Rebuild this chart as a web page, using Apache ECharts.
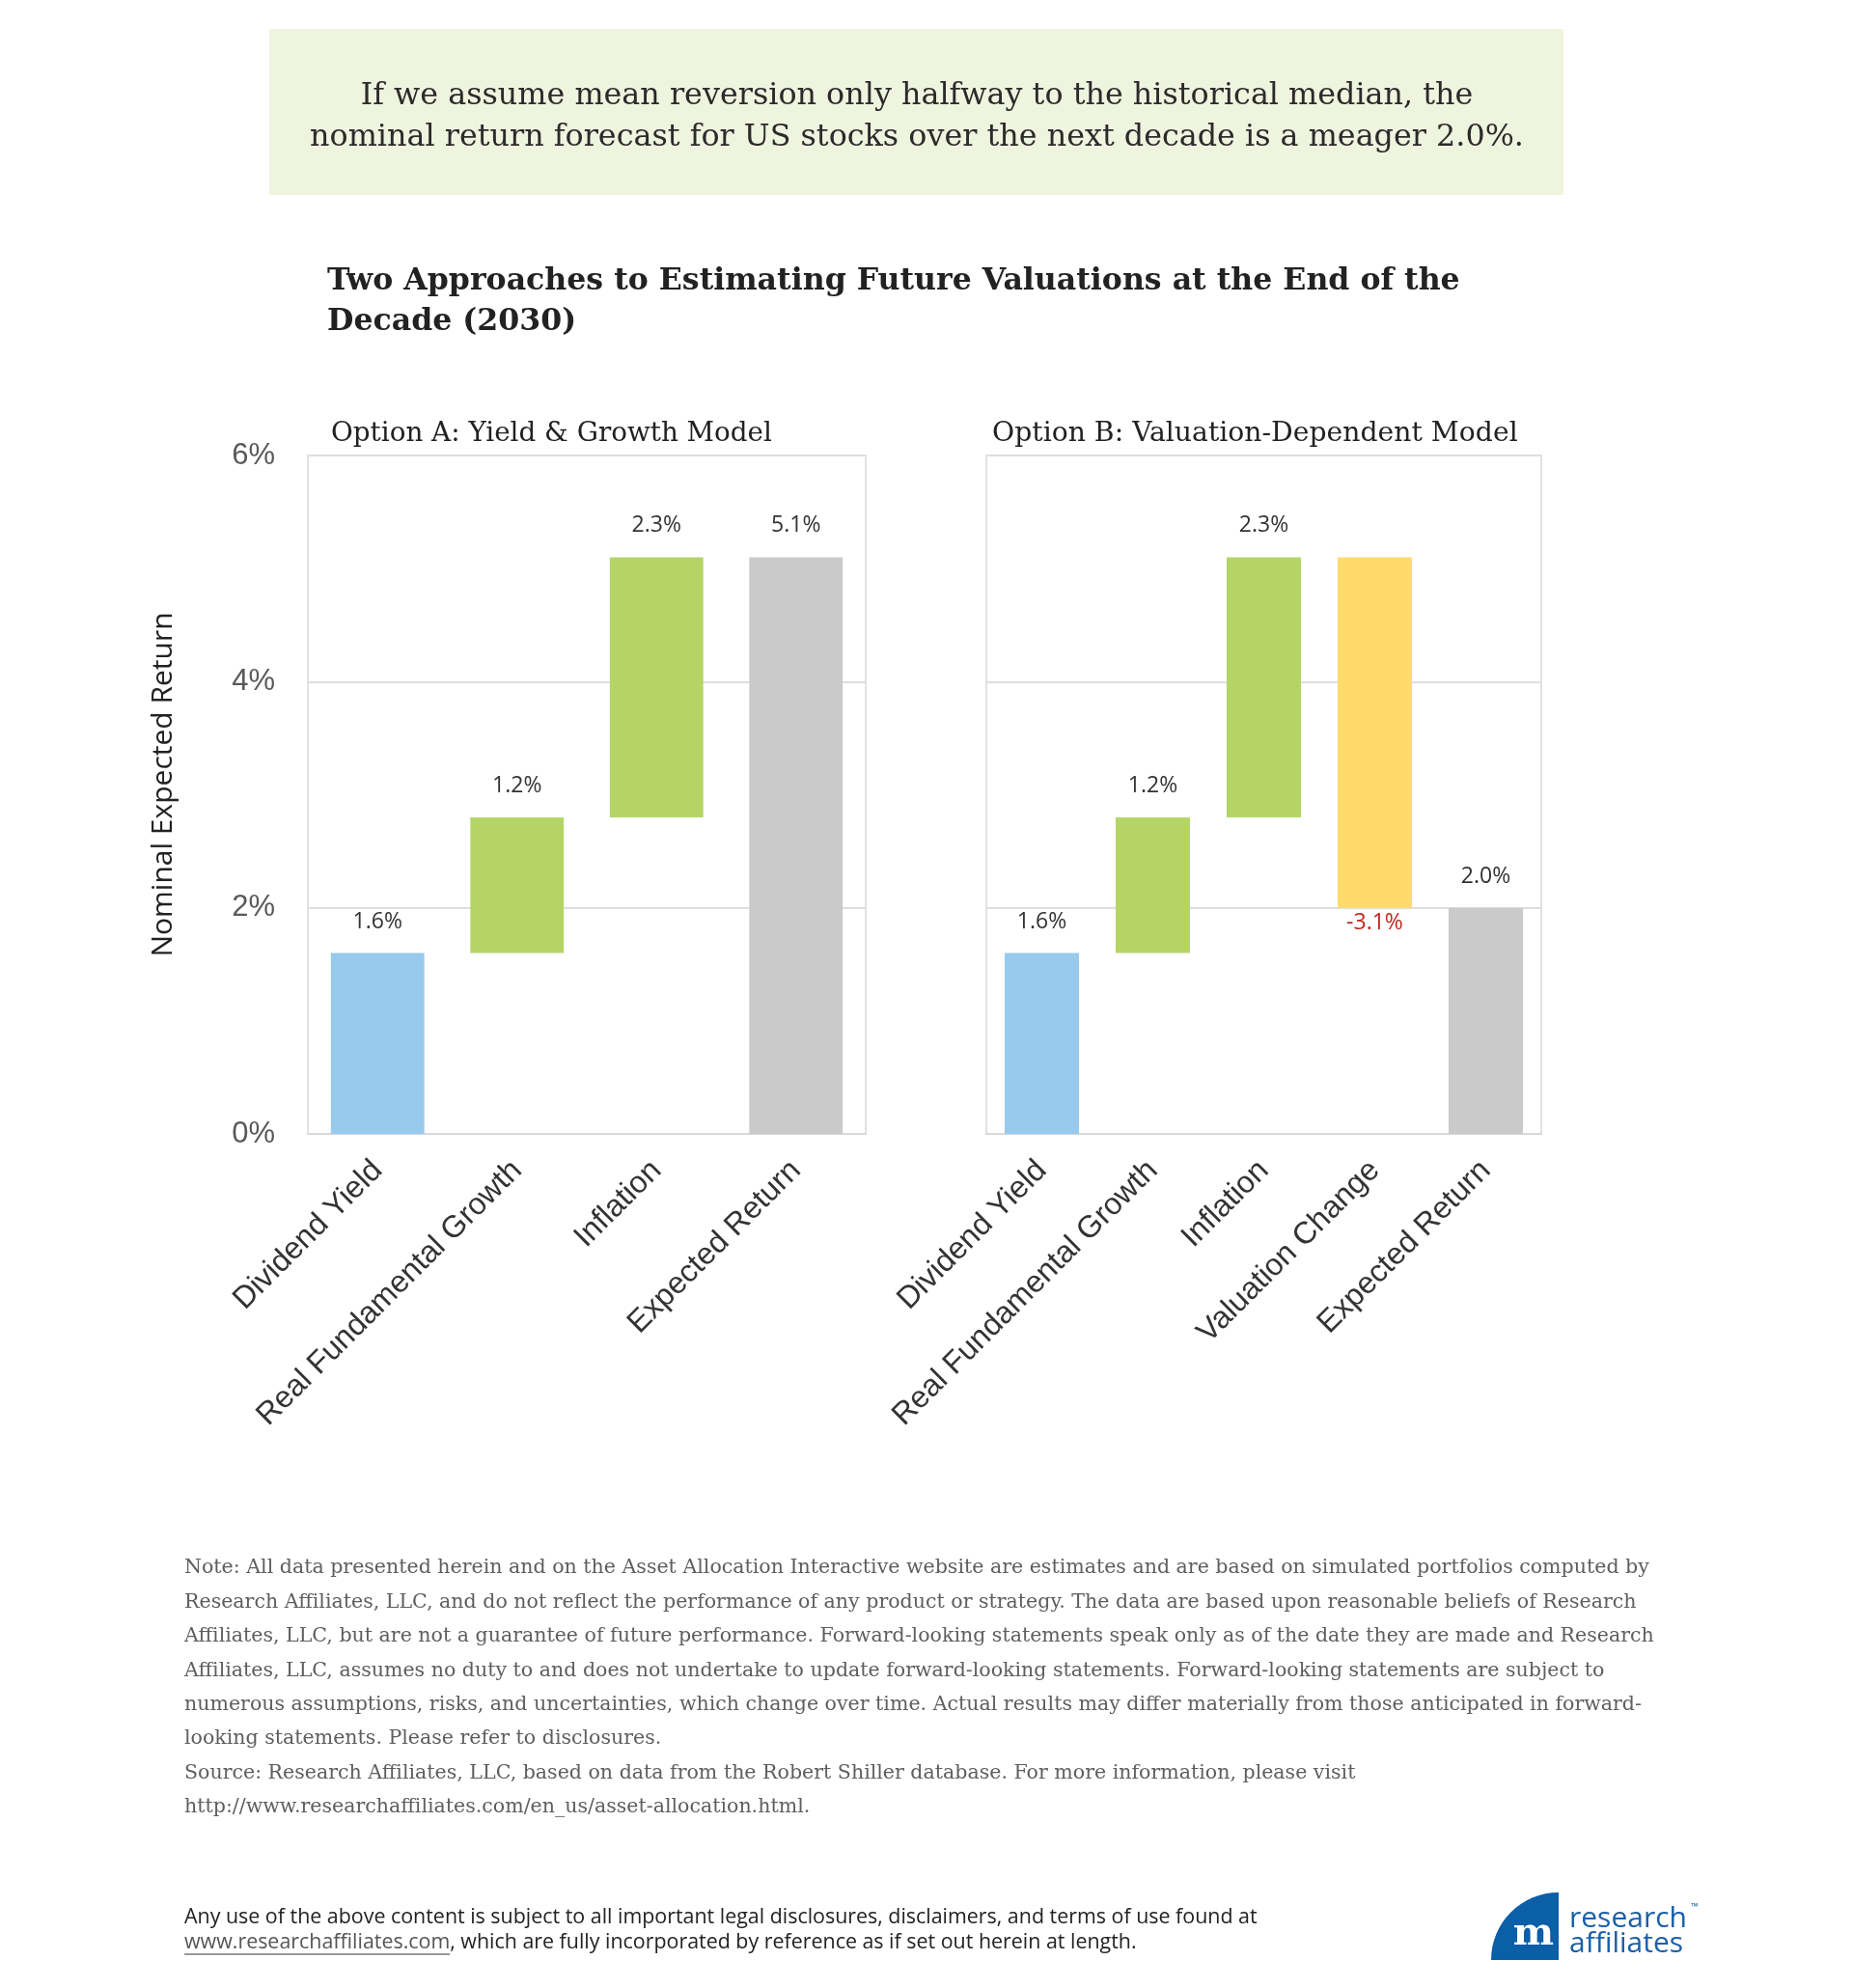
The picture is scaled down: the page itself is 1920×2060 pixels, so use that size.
<!DOCTYPE html>
<html>
<head>
<meta charset="utf-8">
<script src="https://cdn.jsdelivr.net/npm/echarts@6/dist/echarts.min.js"></script>
<style>
html,body{margin:0;padding:0;background:#fff;}
#chart{width:1920px;height:2060px;}
</style>
</head>
<body>
<div id="chart"></div>
<script>
// ---------- data ----------
const catsA = ['Dividend Yield', 'Real Fundamental Growth', 'Inflation', 'Expected Return'];
const valsA = [1.6, 1.2, 2.3, 5.1];
const catsB = ['Dividend Yield', 'Real Fundamental Growth', 'Inflation', 'Valuation Change', 'Expected Return'];
const valsB = [1.6, 1.2, 2.3, -3.1, 2.0];
const yTicks = [0, 2, 4, 6];

const bannerLines = [
  'If we assume mean reversion only halfway to the historical median, the',
  'nominal return forecast for US stocks over the next decade is a meager 2.0%.'
];
const titleLines = [
  'Two Approaches to Estimating Future Valuations at the End of the',
  'Decade (2030)'
];
const subA = 'Option A: Yield & Growth Model';
const subB = 'Option B: Valuation-Dependent Model';
const yTitle = 'Nominal Expected Return';
const noteLines = [
  'Note: All data presented herein and on the Asset Allocation Interactive website are estimates and are based on simulated portfolios computed by',
  'Research Affiliates, LLC, and do not reflect the performance of any product or strategy. The data are based upon reasonable beliefs of Research',
  'Affiliates, LLC, but are not a guarantee of future performance. Forward-looking statements speak only as of the date they are made and Research',
  'Affiliates, LLC, assumes no duty to and does not undertake to update forward-looking statements. Forward-looking statements are subject to',
  'numerous assumptions, risks, and uncertainties, which change over time. Actual results may differ materially from those anticipated in forward-',
  'looking statements. Please refer to disclosures.',
  'Source: Research Affiliates, LLC, based on data from the Robert Shiller database. For more information, please visit',
  'http://www.researchaffiliates.com/en_us/asset-allocation.html.'
];
const legalLine1 = 'Any use of the above content is subject to all important legal disclosures, disclaimers, and terms of use found at';
const legalUrl = 'www.researchaffiliates.com';
const legalRest = ', which are fully incorporated by reference as if set out herein at length.';

// ---------- styles ----------
const colorsA = ['#98caee', '#b4d565', '#b4d565', '#cacaca'];
const colorsB = ['#98caee', '#b4d565', '#b4d565', '#ffdb6b', '#cacaca'];
const SERIF = '"DejaVu Serif", Georgia, serif';
const SANS = '"Liberation Sans", Arial, sans-serif';
const SEGOE = '"Open Sans", "Noto Sans", sans-serif';

const mctx = document.createElement('canvas').getContext('2d');
function fit(text, family, weight, target) {
  mctx.font = weight + ' 100px ' + family;
  return 100 * target / mctx.measureText(text).width;
}
function width(text, family, weight, size) {
  mctx.font = weight + ' ' + size + 'px ' + family;
  return mctx.measureText(text).width;
}

// waterfall helper: last item is a total from zero
function waterfall(vals) {
  const base = [], height = [];
  let run = 0;
  vals.forEach((v, i) => {
    if (i === vals.length - 1) { base.push(0); height.push(v); }
    else {
      base.push(v >= 0 ? run : run + v);
      height.push(Math.abs(v));
      run += v;
    }
  });
  return { base, height };
}

const wA = waterfall(valsA), wB = waterfall(valsB);

function valueSeries(w, vals, colors, idx) {
  return {
    type: 'bar', stack: 's' + idx, xAxisIndex: idx, yAxisIndex: idx,
    barWidth: '67%',
    data: w.height.map((h, i) => ({
      value: h,
      itemStyle: { color: colors[i] },
      label: vals[i] < 0
        ? { position: 'bottom', distance: 4, color: '#c0281e' }
        : { position: 'top', distance: 21, color: '#333' }
    })),
    label: {
      show: true, fontFamily: SEGOE, fontSize: 23,
      formatter: p => vals[p.dataIndex].toFixed(1) + '%'
    }
  };
}
function baseSeries(w, idx) {
  return {
    type: 'bar', stack: 's' + idx, xAxisIndex: idx, yAxisIndex: idx,
    barWidth: '67%', silent: true,
    itemStyle: { color: 'transparent' },
    data: w.base
  };
}

const gridTop = 472, gridH = 703;
const grids = [
  { left: 319, top: gridTop, width: 578, height: gridH, show: true, borderColor: '#e2e2e2', borderWidth: 2 },
  { left: 1022, top: gridTop, width: 575, height: gridH, show: true, borderColor: '#e2e2e2', borderWidth: 2 }
];
function xAxis(cats, idx) {
  return {
    type: 'category', gridIndex: idx, data: cats,
    axisLine: { show: true, lineStyle: { color: '#d9d9d9', width: 2 } },
    axisTick: { show: false },
    axisLabel: { interval: 0, rotate: 45, fontFamily: SANS, fontSize: 32, color: '#333', margin: 33 }
  };
}
function yAxis(idx, showLabels) {
  return {
    type: 'value', gridIndex: idx, min: yTicks[0], max: yTicks[yTicks.length - 1], interval: yTicks[1] - yTicks[0],
    axisLine: { show: false }, axisTick: { show: false },
    splitLine: { show: true, lineStyle: { color: '#dedede', width: 2 } },
    axisLabel: { show: showLabels, formatter: '{value}%', fontFamily: SANS, fontSize: 31, color: '#595959', margin: 34 }
  };
}

// ---------- graphic text ----------
const g = [];
g.push({ type: 'rect', shape: { x: 279, y: 30, width: 1341, height: 172 }, style: { fill: '#eff4df' }, z: 0 });
const bannerSize = fit(bannerLines[1], SERIF, 'normal', 1258);
bannerLines.forEach((t, i) => g.push({
  type: 'text', style: { text: t, x: 950, y: 100 + i * 43, font: 'normal ' + bannerSize.toFixed(2) + 'px ' + SERIF,
  fill: '#2b2b2b', textAlign: 'center', textVerticalAlign: 'middle' }, z: 2 }));
const titleSize = fit(titleLines[0], SERIF, 'bold', 1174);
titleLines.forEach((t, i) => g.push({
  type: 'text', style: { text: t, x: 339, y: 292 + i * 42, font: 'bold ' + titleSize.toFixed(2) + 'px ' + SERIF,
  fill: '#222', textAlign: 'left', textVerticalAlign: 'middle' }, z: 2 }));
const subSizeA = fit(subA, SERIF, 'normal', 457);
const subSizeB = fit(subB, SERIF, 'normal', 545);
g.push({ type: 'text', style: { text: subA, x: 343, y: 450, font: 'normal ' + subSizeA.toFixed(2) + 'px ' + SERIF, fill: '#222', textAlign: 'left', textVerticalAlign: 'middle' } });
g.push({ type: 'text', style: { text: subB, x: 1028, y: 450, font: 'normal ' + subSizeB.toFixed(2) + 'px ' + SERIF, fill: '#222', textAlign: 'left', textVerticalAlign: 'middle' } });
g.push({ type: 'text', rotation: Math.PI / 2, x: 169, y: 813,
  style: { text: yTitle, x: 0, y: 0, font: 'normal 30px ' + SEGOE, fill: '#222', textAlign: 'center', textVerticalAlign: 'middle' } });
const noteSize = fit(noteLines[0], SERIF, 'normal', 1518);
noteLines.forEach((t, i) => g.push({
  type: 'text', style: { text: t, x: 191, y: 1625 + i * 35.4, font: 'normal ' + noteSize.toFixed(2) + 'px ' + SERIF,
  fill: '#5e5e5e', textAlign: 'left', textVerticalAlign: 'middle' } }));
const legalSize = fit(legalLine1, SEGOE, 'normal', 1112);
const legalFont = 'normal ' + legalSize.toFixed(2) + 'px ' + SEGOE;
g.push({ type: 'text', style: { text: legalLine1, x: 191, y: 1987, font: legalFont, fill: '#222', textAlign: 'left', textVerticalAlign: 'middle' } });
const urlW = width(legalUrl, SEGOE, 'normal', legalSize);
g.push({ type: 'text', style: { text: legalUrl, x: 191, y: 2013, font: legalFont, fill: '#555', textAlign: 'left', textVerticalAlign: 'middle' } });
g.push({ type: 'line', shape: { x1: 191, y1: 2025, x2: 191 + urlW, y2: 2025 }, style: { stroke: '#777', lineWidth: 1.5 } });
g.push({ type: 'text', style: { text: legalRest, x: 191 + urlW, y: 2013, font: legalFont, fill: '#222', textAlign: 'left', textVerticalAlign: 'middle' } });
// logo
g.push({ type: 'sector', shape: { cx: 1615, cy: 2031, r: 70, r0: 0, startAngle: Math.PI, endAngle: Math.PI * 1.5 }, style: { fill: '#0b5ea8' } });
g.push({ type: 'text', style: { text: 'm', x: 1589, y: 2005, font: 'bold 40px ' + SERIF, fill: '#fff', textAlign: 'center', textVerticalAlign: 'middle' } });
const logoSize = fit('research', SEGOE, 'normal', 122);
g.push({ type: 'text', style: { text: 'research', x: 1626, y: 1988, font: 'normal ' + logoSize.toFixed(2) + 'px ' + SEGOE, fill: '#1a5fa8', textAlign: 'left', textVerticalAlign: 'middle' } });
g.push({ type: 'text', style: { text: 'affiliates', x: 1626, y: 2014, font: 'normal ' + logoSize.toFixed(2) + 'px ' + SEGOE, fill: '#1a5fa8', textAlign: 'left', textVerticalAlign: 'middle' } });
g.push({ type: 'text', style: { text: '™', x: 1752, y: 1976, font: 'normal 10px ' + SEGOE, fill: '#1a5fa8', textAlign: 'left', textVerticalAlign: 'middle' } });

const chart = echarts.init(document.getElementById('chart'), null, { renderer: 'canvas' });
chart.setOption({
  backgroundColor: '#fff',
  animation: false,
  grid: grids,
  xAxis: [xAxis(catsA, 0), xAxis(catsB, 1)],
  yAxis: [yAxis(0, true), yAxis(1, false)],
  series: [baseSeries(wA, 0), valueSeries(wA, valsA, colorsA, 0), baseSeries(wB, 1), valueSeries(wB, valsB, colorsB, 1)],
  graphic: g
});
</script>
</body>
</html>
